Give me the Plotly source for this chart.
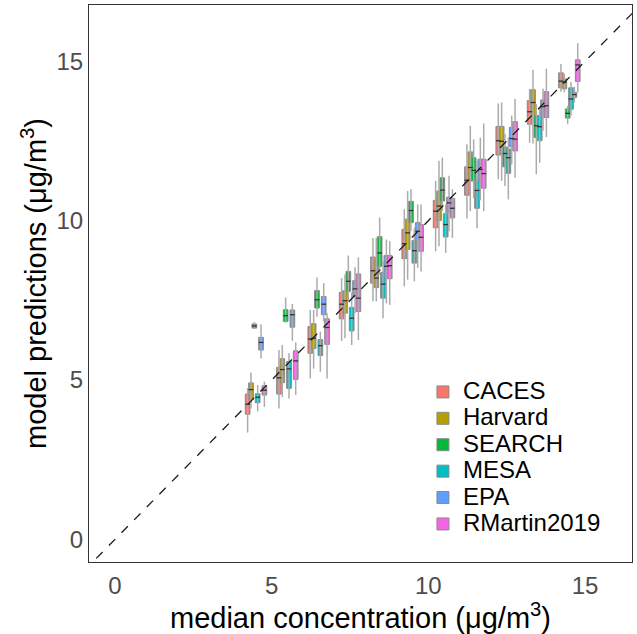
import plotly.graph_objects as go

# bin centres (median concentration, ug/m3)
bins = [4.5, 5.5, 6.5, 7.5, 8.5, 9.5, 10.5, 11.5, 12.5, 13.5, 14.5]

models = ["CACES", "Harvard", "SEARCH", "MESA", "EPA", "RMartin2019"]
colors = ["#F8766D", "#B79F00", "#00BA38", "#00BFC4", "#619CFF", "#F564E3"]

caces_lo  = [3.35, 4.11, 5.05, 6.23, 7.47, 7.94, 9.04, 10.07, 11.30, 12.45, 14.05]
caces_q1  = [3.93, 4.56, 5.84, 6.92, 8.04, 8.81, 9.78, 10.80, 12.06, 13.03, 14.17]
caces_med = [4.24, 5.07, 6.29, 7.38, 8.43, 9.28, 10.30, 11.27, 12.51, 13.42, 14.38]
caces_q3  = [4.56, 5.40, 6.68, 7.75, 8.86, 9.73, 10.64, 11.69, 12.96, 13.77, 14.64]
caces_hi  = [4.75, 5.94, 7.20, 8.20, 9.46, 10.36, 11.25, 12.40, 13.68, 14.14, 14.92]

harvard_lo  = [4.11, 4.47, 5.36, 6.31, 7.47, 8.15, 9.20, 10.30, 11.25, 12.42, 14.03]
harvard_q1  = [4.40, 4.92, 5.99, 7.10, 7.90, 9.10, 10.01, 11.25, 12.32, 13.32, 14.14]
harvard_med = [4.70, 5.33, 6.31, 7.49, 8.20, 9.62, 10.46, 11.67, 12.49, 13.71, 14.35]
harvard_q3  = [4.91, 5.67, 6.77, 7.80, 8.76, 10.05, 10.93, 12.16, 12.96, 14.11, 14.45]
harvard_hi  = [5.24, 6.10, 7.20, 8.31, 9.46, 10.93, 11.88, 12.98, 13.71, 14.74, 14.61]

search_lo  = [6.60, 6.80, 6.99, 7.47, 8.31, 9.67, 10.30, 10.70, 11.09, 11.46, 13.03]
search_q1  = [6.63, 6.84, 7.26, 7.78, 8.57, 9.94, 10.62, 11.25, 11.69, 12.61, 13.22]
search_med = [6.70, 7.02, 7.52, 8.10, 8.99, 10.32, 10.96, 11.58, 12.11, 12.98, 13.37]
search_q3  = [6.76, 7.21, 7.81, 8.41, 9.50, 10.61, 11.35, 11.98, 12.31, 13.30, 13.51]
search_hi  = [6.82, 7.59, 8.22, 8.91, 10.10, 10.99, 11.98, 12.55, 12.72, 13.66, 13.60]

mesa_lo  = [4.02, 4.42, 5.26, 6.10, 6.94, 8.10, 8.99, 9.76, 10.67, 11.82, 13.30]
mesa_q1  = [4.29, 4.74, 5.77, 6.54, 7.57, 8.67, 9.49, 10.39, 11.49, 12.51, 13.50]
mesa_med = [4.46, 5.35, 6.08, 6.94, 8.01, 9.06, 9.88, 10.95, 11.98, 12.95, 13.82]
mesa_q3  = [4.57, 5.58, 6.27, 7.28, 8.38, 9.38, 10.22, 11.27, 12.25, 13.30, 14.17]
mesa_hi  = [4.84, 5.84, 6.52, 7.75, 8.73, 9.78, 10.51, 11.88, 12.61, 13.51, 14.35]

epa_lo  = [5.68, 6.23, 6.84, 7.10, 7.41, 8.52, 9.67, 10.64, 11.77, 12.82, 13.71]
epa_q1  = [5.94, 6.66, 7.05, 7.62, 8.20, 9.38, 10.25, 11.27, 12.32, 13.26, 13.87]
epa_med = [6.18, 7.05, 7.38, 7.86, 8.57, 9.67, 10.56, 11.61, 12.58, 13.58, 13.96]
epa_q3  = [6.34, 7.20, 7.62, 8.12, 8.91, 9.94, 10.74, 11.93, 12.93, 13.79, 14.03]
epa_hi  = [6.75, 7.39, 8.04, 8.54, 9.41, 10.51, 11.41, 12.61, 13.30, 14.14, 14.20]

rm_lo  = [4.16, 4.53, 5.05, 6.26, 7.36, 8.41, 9.46, 10.30, 11.35, 12.63, 14.03]
rm_q1  = [4.53, 5.02, 6.12, 7.15, 8.18, 9.04, 10.09, 11.02, 12.19, 13.24, 14.37]
rm_med = [4.68, 5.60, 6.65, 7.57, 8.59, 9.48, 10.39, 11.48, 12.56, 13.61, 14.89]
rm_q3  = [4.82, 5.92, 6.92, 8.33, 8.91, 9.88, 10.70, 11.93, 13.11, 14.05, 15.05]
rm_hi  = [4.95, 6.18, 7.10, 8.85, 9.36, 10.51, 10.99, 13.05, 13.82, 14.77, 15.57]

stats = [
    (caces_lo, caces_q1, caces_med, caces_q3, caces_hi),
    (harvard_lo, harvard_q1, harvard_med, harvard_q3, harvard_hi),
    (search_lo, search_q1, search_med, search_q3, search_hi),
    (mesa_lo, mesa_q1, mesa_med, mesa_q3, mesa_hi),
    (epa_lo, epa_q1, epa_med, epa_q3, epa_hi),
    (rm_lo, rm_q1, rm_med, rm_q3, rm_hi),
]

dodge = 0.107
box_w = 0.15

fig = go.Figure()

# whiskers (light grey), drawn behind boxes
for i, (name, col, (lo, q1, med, q3, hi)) in enumerate(zip(models, colors, stats)):
    off = (i - 2.5) * dodge
    wx, wy = [], []
    for b, l, h in zip(bins, lo, hi):
        wx += [b + off, b + off, None]
        wy += [l, h, None]
    fig.add_trace(go.Scatter(x=wx, y=wy, mode="lines",
                             line=dict(color="#ababab", width=1.5),
                             showlegend=False, hoverinfo="skip"))

for i, (name, col, (lo, q1, med, q3, hi)) in enumerate(zip(models, colors, stats)):
    off = (i - 2.5) * dodge
    fig.add_trace(go.Box(
        name='<span style="font-size:24px">%s</span>' % name,
        x=[b + off for b in bins],
        q1=q1, median=med, q3=q3,
        lowerfence=q1, upperfence=q3,
        width=box_w, whiskerwidth=0,
        fillcolor=col,
        line=dict(color="#8a8a8a", width=1),
        boxpoints=False,
        showlegend=True,
    ))
    # darker median bar on top of each box
    mx, my = [], []
    for b, m in zip(bins, med):
        mx += [b + off - box_w / 2, b + off + box_w / 2, None]
        my += [m, m, None]
    fig.add_trace(go.Scatter(x=mx, y=my, mode="lines",
                             line=dict(color="#333333", width=1.3),
                             showlegend=False, hoverinfo="skip"))

# 1:1 reference line
fig.add_trace(go.Scatter(x=[-1, 17], y=[-1, 17], mode="lines",
                         line=dict(color="#1a1a1a", width=1.3, dash="dash"),
                         showlegend=False, hoverinfo="skip"))

fig.update_layout(
    width=637, height=634,
    margin=dict(l=89, r=5, t=5, b=72),
    plot_bgcolor="white", paper_bgcolor="white",
    font=dict(family="Liberation Sans, Arial, sans-serif"),
    boxmode="overlay",
    showlegend=True,
    legend=dict(x=0.615, y=0.338, xanchor="left", yanchor="top",
                bgcolor="rgba(0,0,0,0)", font=dict(size=18, color="black"),
                itemwidth=30, tracegroupgap=0),
    xaxis=dict(range=[-0.83, 16.5], tickvals=[0, 5, 10, 15],
               showgrid=False, zeroline=False, showline=True, mirror=True,
               linecolor="#333333", linewidth=1, ticks="",
               automargin=False, ticklabelstandoff=2,
               tickfont=dict(size=24, color="#4d4d4d"),
               title=dict(text="median concentration (\u03bcg/m<sup>3</sup>)",
                          font=dict(size=29, color="black"), standoff=5)),
    yaxis=dict(range=[-0.71, 16.77], tickvals=[0, 5, 10, 15],
               showgrid=False, zeroline=False, showline=True, mirror=True,
               linecolor="#333333", linewidth=1, ticks="",
               automargin=False, ticklabelstandoff=0,
               tickfont=dict(size=24, color="#4d4d4d"),
               title=dict(text="model predictions (\u03bcg/m<sup>3</sup>)",
                          font=dict(size=29, color="black"), standoff=1)),
)

fig.write_html("out.html", config={"displayModeBar": False},
               post_script="document.body.style.margin='0';document.body.style.overflow='hidden';")
